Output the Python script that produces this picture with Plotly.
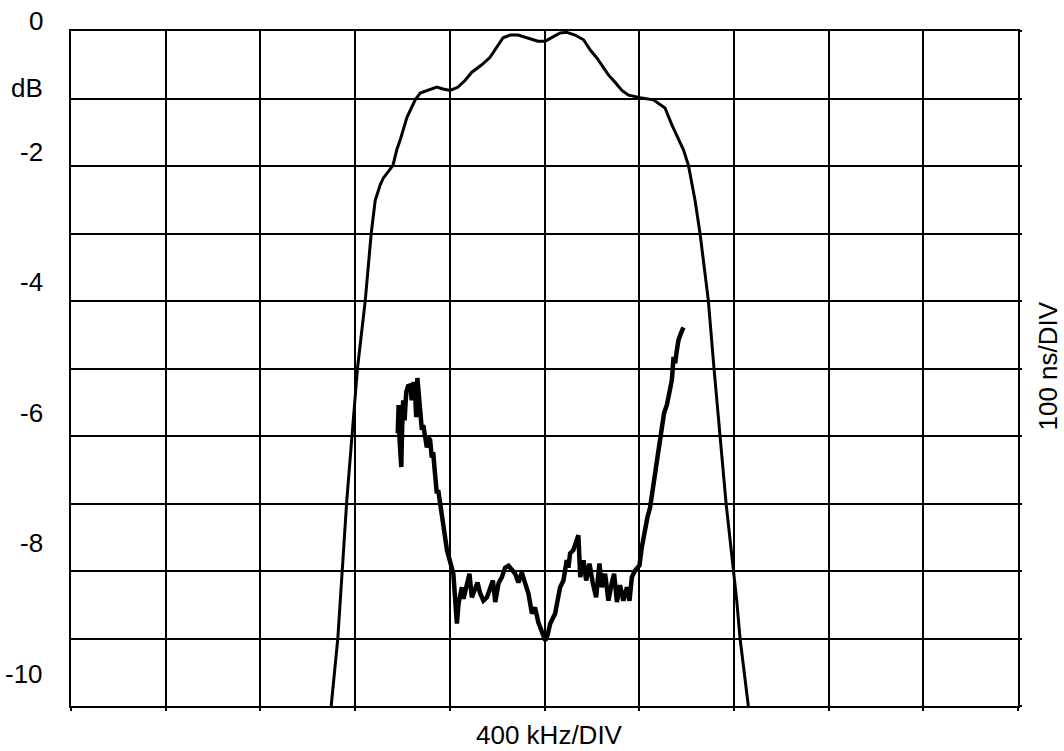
import plotly.graph_objects as go

# Amplitude response (frequency offset in kHz, 400 kHz/DIV; level in dB)
amp_freq_khz = [-901, -873, -835, -812, -790, -757, -750, -732, -715, -694, -681, -640,
                -624, -610, -581, -546, -525, -491, -455, -428, -398, -365, -335, -307,
                -265, -230, -201, -175, -145, -111, -75, -27, 3, 31, 66, 94, 129, 165,
                193, 221, 242, 270, 298, 327, 355, 404, 460, 509, 538, 587, 608, 636,
                657, 692, 716, 742, 767, 798, 812, 826, 861]
amp_db = [-10.0, -9.0, -6.95, -5.99, -5.0, -3.99, -3.69, -3.0, -2.51, -2.28, -2.18, -1.99,
          -1.76, -1.62, -1.28, -1.02, -0.92, -0.88, -0.83, -0.86, -0.88, -0.83, -0.73, -0.61,
          -0.50, -0.39, -0.24, -0.10, -0.06, -0.06, -0.10, -0.15, -0.15, -0.10, -0.03, -0.02,
          -0.06, -0.13, -0.28, -0.40, -0.50, -0.65, -0.76, -0.88, -0.95, -0.99, -1.02, -1.14,
          -1.39, -1.76, -1.99, -2.51, -3.0, -3.99, -5.0, -5.99, -7.0, -7.99, -8.44, -9.0, -10.0]

# Group delay (frequency offset in kHz; delay in ns, 100 ns/DIV)
gd_freq_khz = [-620, -616, -612, -605, -601, -597, -591, -584, -576, -567, -561, -553,
               -546, -542, -537, -529, -518, -512, -504, -497, -489, -483, -476, -470,
               -465, -460, -455, -449, -441, -434, -427, -420, -412, -405, -398, -391,
               -385, -377, -370, -363, -359, -356, -349, -342, -335, -328, -317, -307,
               -293, -283, -272, -258, -243, -230, -218, -208, -194, -180, -166, -152,
               -138, -124, -110, -96, -82, -68, -53, -40, -26, -11, 3, 13, 24, 45, 59,
               66, 80, 94, 101, 108, 122, 137, 143, 151, 165, 176, 190, 204, 218, 232,
               242, 256, 270, 284, 294, 306, 319, 333, 348, 359, 369, 383, 401, 411,
               425, 435, 446, 458, 467, 477, 488, 496, 505, 517, 528, 538, 545, 552,
               559, 566, 576, 587]
gd_ns = [404, 446, 394, 354, 416, 453, 423, 465, 474, 475, 453, 480,
         460, 428, 486, 453, 409, 416, 394, 383, 397, 394, 368, 376,
         354, 334, 315, 320, 300, 290, 265, 253, 231, 222, 211, 205,
         196, 156, 122, 152, 161, 171, 176, 159, 171, 178, 196, 161,
         176, 183, 167, 156, 161, 176, 186, 154, 182, 191, 205, 208,
         201, 196, 183, 198, 182, 167, 137, 146, 124, 112, 97, 105, 122, 137, 161,
         176, 186, 216, 205, 226, 231, 245, 253, 191, 216, 186, 211, 182, 161, 211,
         176, 196, 156, 182, 196, 154, 179, 156, 176, 156, 191, 201, 208, 235,
         265, 280, 294, 324, 354, 368, 394, 413, 434, 446, 468, 483, 517, 508,
         527, 542, 552, 561]

y_tick_values = [0, -2, -4, -6, -8, -10]
x_title = "400 kHz/DIV"
y2_title = "100 ns/DIV"
y_unit = "dB"

FONT = "Arial, Liberation Sans, sans-serif"
FS = 26

fig = go.Figure()
fig.add_trace(go.Scatter(x=amp_freq_khz, y=amp_db, mode="lines",
                         line=dict(color="black", width=3), showlegend=False))
fig.add_trace(go.Scatter(x=gd_freq_khz, y=gd_ns, mode="lines", yaxis="y2",
                         line=dict(color="black", width=4.5), showlegend=False))

annotations = []
for v in y_tick_values:
    annotations.append(dict(x=0, xref="paper", y=v, yref="y", xanchor="right",
                            yanchor="middle", xshift=-26, yshift=10 + 2.2 * abs(v),
                            text=str(v), showarrow=False,
                            font=dict(family=FONT, size=FS, color="black")))
annotations.append(dict(x=0, xref="paper", y=-1, yref="y", xanchor="right",
                        yanchor="middle", xshift=-26, yshift=11,
                        text=y_unit, showarrow=False,
                        font=dict(family=FONT, size=FS, color="black")))
annotations.append(dict(x=0.5048, xref="paper", y=-0.0437, yref="paper",
                        xanchor="center", yanchor="middle", text=x_title,
                        showarrow=False, font=dict(family=FONT, size=FS, color="black")))
annotations.append(dict(x=1.0317, xref="paper", y=0.503, yref="paper",
                        xanchor="center", yanchor="middle", text=y2_title, textangle=-90,
                        showarrow=False, font=dict(family=FONT, size=FS, color="black")))

fig.update_layout(
    width=1064, height=751,
    margin=dict(l=71, r=46, t=31, b=45),
    paper_bgcolor="white", plot_bgcolor="white",
    xaxis=dict(range=[-2000, 2000], dtick=400, tick0=-2000, showgrid=True,
               gridcolor="black", gridwidth=1.6, zeroline=False,
               showline=True, linecolor="black", linewidth=2, mirror=True,
               ticks="outside", ticklen=3, tickwidth=1.6, tickcolor="black",
               showticklabels=False),
    yaxis=dict(range=[-10, 0], dtick=1, tick0=0, showgrid=True,
               gridcolor="black", gridwidth=1.6, zeroline=False,
               showline=True, linecolor="black", linewidth=2, mirror=True,
               showticklabels=False),
    yaxis2=dict(range=[0, 1000], overlaying="y", side="right", dtick=100,
                showgrid=False, zeroline=False, showticklabels=False,
                ticks="outside", ticklen=3, tickwidth=1.6, tickcolor="black"),
    annotations=annotations,
    font=dict(family=FONT, color="black"),
)

fig.write_html("out.html", config={"displayModeBar": False},
               post_script="document.body.style.margin='0';document.body.style.overflow='hidden';")
